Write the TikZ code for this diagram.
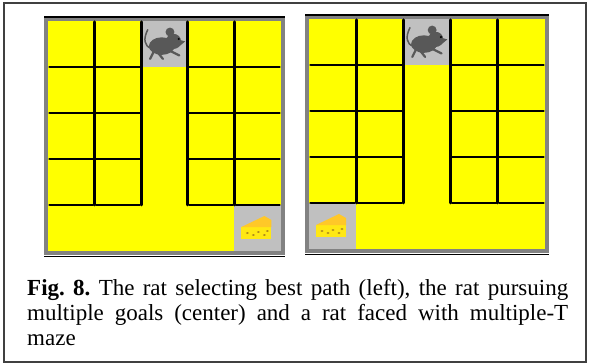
\documentclass[tikz,border=0pt]{standalone}
\usepackage{fontspec}
\setmainfont{Liberation Serif}
\usetikzlibrary{calc, positioning}
\definecolor{mazeyellow}{RGB}{255,255,0}
\definecolor{rimgray}{RGB}{130,130,130}
\definecolor{tilegray}{RGB}{192,192,192}
\definecolor{ratgray}{RGB}{88,88,88}
\definecolor{cheesefront}{RGB}{255,232,20}
\definecolor{cheesetop}{RGB}{255,200,40}
\tikzstyle{wall} = [line width=2.9pt, black, line cap=round]
\tikzstyle{tile} = [fill=tilegray, draw=none]
\tikzstyle{caption} = [anchor=base west, inner sep=0pt, text width=541pt, align=justify, font=\fontsize{23}{25}\selectfont\frenchspacing]

% one maze: #1,#2 top left corner, #3,#4 size, #5 column of the cheese
\newcommand{\drawmaze}[5]{
	\fill[rimgray] (#1-4,#2-4) rectangle (#1+#3+4,#2+#4+4);
	\draw[line width=1.4pt] (#1-4,#2-4) -- (#1+#3+4,#2-4);
	\draw[line width=1pt] (#1-4,#2+#4+5) -- (#1+#3+4,#2+#4+5);
	\fill[mazeyellow] (#1,#2) rectangle (#1+#3,#2+#4);
	\begin{scope}[shift={(#1,#2)}, xscale=#3/5, yscale=#4/5]
		\fill[tile] (2,0) rectangle (3,1);
		\fill[tile] (#5,4) rectangle (#5+1,5);
		\foreach \i in {1,2,3,4}
			\draw[wall] (\i,0.02) -- (\i,4);
		\foreach \j in {1,2,3,4}
			\foreach \i in {0,1,3,4}
				\draw[wall, shorten <=1.6pt, shorten >=1.6pt] (\i,\j) -- (\i+1,\j);
		\coordinate (rat) at (2,0);
		\coordinate (goal) at (#5,4);
	\end{scope}
	% the rat
	\begin{scope}[shift={(rat)}, shift={(-4,-3)}, scale=1.17, ratgray]
		\draw[line width=1.5pt, line cap=round] (12,26) .. controls (6,24) and (5,18) .. (9,10);
		\fill (21,24) ellipse [x radius=11, y radius=7.5];
		\fill (31,20) circle [radius=6.5];
		\fill (30,17) -- (41,20) -- (35,25) -- cycle;
		\fill (28,12) circle [radius=3.8];
		\fill[black] (35.5,18) circle [radius=1];
		\draw[line width=2.2pt, line cap=round] (14,29) -- (11,35);
		\draw[line width=2.2pt, line cap=round] (18,30) -- (22,35);
		\draw[line width=2.2pt, line cap=round] (28,28) -- (36,32);
	\end{scope}
	% the cheese
	\begin{scope}[shift={(goal)}]
		\fill[cheesefront] (7,22) -- (37,22) -- (37,34) -- (7,34) -- cycle;
		\fill[cheesetop] (7,22) -- (30,11) -- (37,15) -- (37,22) -- cycle;
		\foreach \hx/\hy in {13/28, 19/30, 24/27, 30/30, 33/26}
			\fill[cheesetop!70!black] (\hx,\hy) ellipse [x radius=1.6, y radius=1];
	\end{scope}
}

\begin{document}
\begin{tikzpicture}[x=1pt, y=-1pt]
	\useasboundingbox (0,0) rectangle (589,364);
	\fill[white] (0,0) rectangle (589,364);
	\draw[line width=1.5pt, black!75] (4,3) rectangle (586,362);

	% best path maze and multiple goal maze
	\drawmaze{48}{21}{233}{230}{4}
	\drawmaze{309}{19}{236}{230}{0}

	\node (caption) [caption] at (27,295) {\noindent\textbf{Fig. 8.} The rat selecting best path (left), the rat pursuing\linebreak multiple goals (center) and a rat faced with multiple-T\linebreak maze};
\end{tikzpicture}
\end{document}
